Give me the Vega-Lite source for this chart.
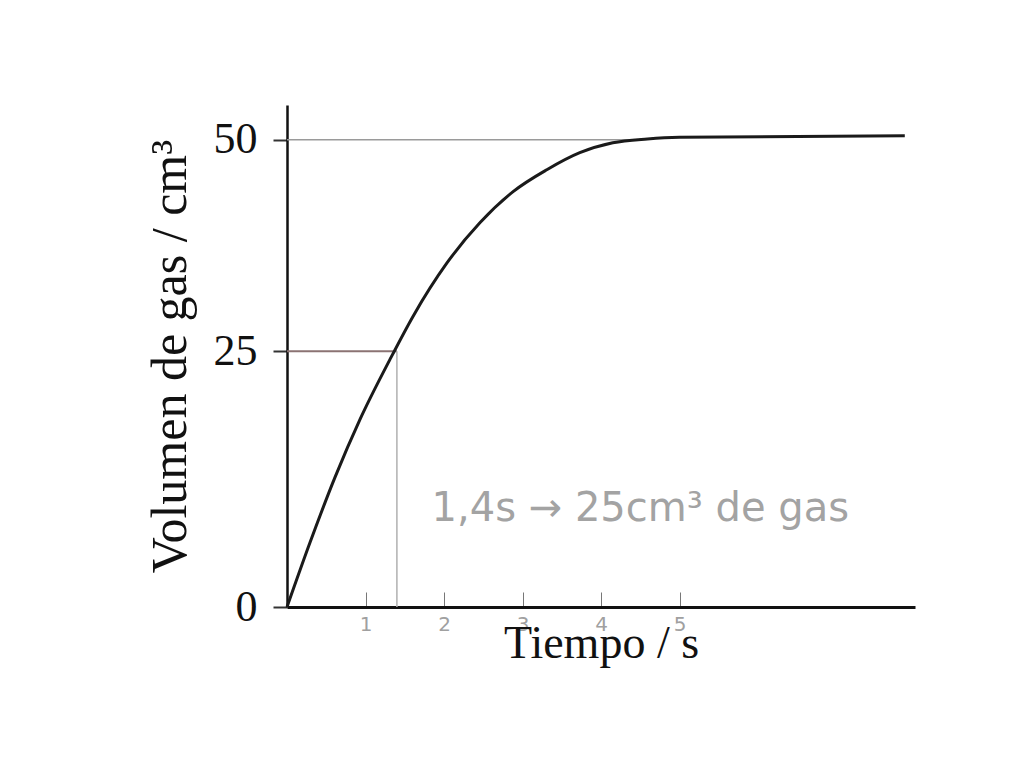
{
  "$schema": "https://vega.github.io/schema/vega-lite/v6.json",
  "autosize": {"type": "none"},
  "padding": {"left": 287, "top": 105, "right": 109, "bottom": 161},
  "width": 628,
  "height": 502,
  "background": "white",
  "config": {"view": {"stroke": null}},
  "encoding": {
    "x": {
      "field": "t", "type": "quantitative",
      "scale": {"domain": [0, 8], "nice": false},
      "axis": {
        "title": "Tiempo / s",
        "values": [1, 2, 3, 4, 5],
        "grid": false,
        "domainColor": "#111", "domainWidth": 3,
        "tickColor": "#777", "tickWidth": 1, "tickSize": -15,
        "labelColor": "#a0a0a0", "labelFont": "DejaVu Sans", "labelFontSize": 20, "labelPadding": 22,
        "titleFont": "Liberation Serif", "titleFontSize": 46, "titleFontWeight": "normal", "titleColor": "#111",
        "titleY": 14, "titleBaseline": "top"
      }
    },
    "y": {
      "field": "v", "type": "quantitative",
      "scale": {"type": "pow", "exponent": 0.87, "domain": [0, 54.3], "nice": false},
      "axis": {
        "title": "Volumen de gas / cm³",
        "values": [0, 25, 50],
        "grid": false,
        "domainColor": "#111", "domainWidth": 2.5,
        "tickColor": "#333", "tickWidth": 2, "tickSize": 14,
        "labelColor": "#111", "labelFont": "Liberation Serif", "labelFontSize": 44, "labelPadding": 16,
        "titleFont": "Liberation Serif", "titleFontSize": 50, "titleFontWeight": "normal", "titleColor": "#111",
        "titlePadding": 18
      }
    }
  },
  "layer": [
    {
      "data": {"values": [
        {"t": 0, "t2": 4.5, "v": 50}
      ]},
      "mark": {"type": "rule", "color": "#9a9a9a", "strokeWidth": 1.5},
      "encoding": {"x2": {"field": "t2"}}
    },
    {
      "data": {"values": [
        {"t": 0, "t2": 1.4, "v": 25}
      ]},
      "mark": {"type": "rule", "color": "#8b7373", "strokeWidth": 2},
      "encoding": {"x2": {"field": "t2"}}
    },
    {
      "data": {"values": [
        {"t": 1.4, "v": 0, "v2": 25}
      ]},
      "mark": {"type": "rule", "color": "#b0b0b0", "strokeWidth": 1.5},
      "encoding": {"y2": {"field": "v2"}}
    },
    {
      "data": {"values": [
        {"t": 0, "v": 0},
        {"t": 0.293, "v": 5.13},
        {"t": 0.611, "v": 11.45},
        {"t": 0.93, "v": 17.52},
        {"t": 1.312, "v": 24.1},
        {"t": 1.605, "v": 28.97},
        {"t": 2.04, "v": 35.2},
        {"t": 2.46, "v": 39.96},
        {"t": 2.88, "v": 43.67},
        {"t": 3.31, "v": 46.33},
        {"t": 3.73, "v": 48.41},
        {"t": 4.15, "v": 49.63},
        {"t": 4.59, "v": 50.1},
        {"t": 5.0, "v": 50.3},
        {"t": 7.87, "v": 50.5}
      ]},
      "mark": {"type": "line", "color": "#1a1a1a", "strokeWidth": 3, "interpolate": "monotone"}
    },
    {
      "data": {"values": [
        {"t": 4.5, "v": 8.3, "label": "1,4s → 25cm³ de gas"}
      ]},
      "mark": {"type": "text", "color": "#a3a3a3", "font": "DejaVu Sans", "fontSize": 40, "align": "center", "baseline": "middle"},
      "encoding": {"text": {"field": "label"}}
    }
  ]
}
